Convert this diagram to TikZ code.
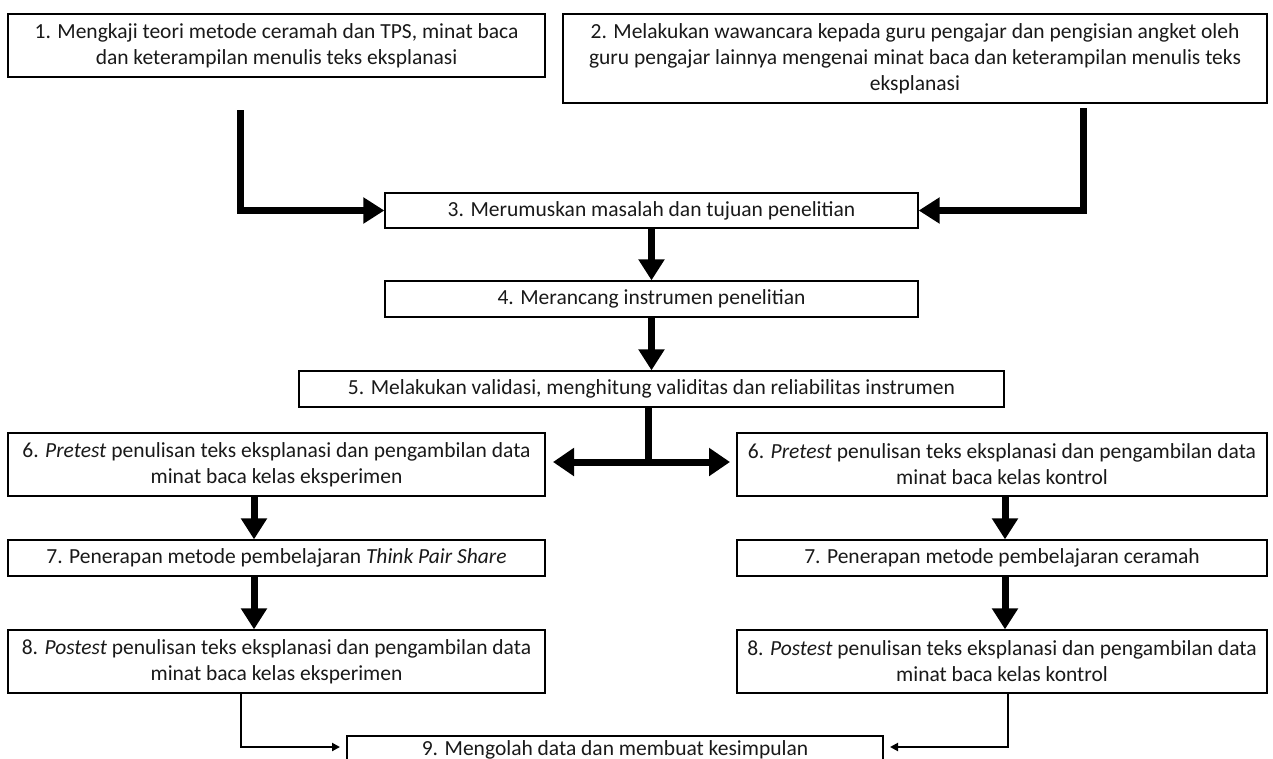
\documentclass[tikz,border=0pt]{standalone}
\usepackage{fontspec}
\setmainfont{Carlito}
\usetikzlibrary{arrows.meta}
\tikzset{
  box/.style={draw=black, line width=1.3pt, fill=white, align=center, inner sep=0pt,
    font=\fontsize{21.5}{26}\selectfont, text=black!90},
  bigarrow/.style={draw=black, line width=7pt, -{Triangle[width=25pt,length=21pt]}},
  bigdouble/.style={draw=black, line width=7pt, {Triangle[width=27pt,length=21pt]}-{Triangle[width=27pt,length=21pt]}},
  bigline/.style={draw=black, line width=7pt},
  thinarrow/.style={draw=black, line width=2pt, -{Triangle[width=8pt,length=8pt]}}
}
\begin{document}
\begin{tikzpicture}[x=1pt,y=-1pt]
\useasboundingbox (0,0) rectangle (1273,758);
\clip (0,0) rectangle (1273,758);
\fill[white] (0,0) rectangle (1273,758);

\node[box, minimum width=537pt, minimum height=63pt] (b1) at (276.5,45.5)
  {1. Mengkaji teori metode ceramah dan TPS, minat baca\\dan keterampilan menulis teks eksplanasi};
\node[box, minimum width=704pt, minimum height=89pt] (b2) at (915,58.5)
  {2. Melakukan wawancara kepada guru pengajar dan pengisian angket oleh\\guru pengajar lainnya mengenai minat baca dan keterampilan menulis teks\\eksplanasi};
\node[box, minimum width=533pt, minimum height=35pt] (b3) at (651.5,210.5)
  {3. Merumuskan masalah dan tujuan penelitian};
\node[box, minimum width=533pt, minimum height=36pt] (b4) at (651.5,299)
  {4. Merancang instrumen penelitian};
\node[box, minimum width=705pt, minimum height=36pt] (b5) at (651.5,389)
  {5. Melakukan validasi, menghitung validitas dan reliabilitas instrumen};
\node[box, minimum width=537pt, minimum height=63pt] (b6l) at (276.5,464.5)
  {6. \textit{Pretest} penulisan teks eksplanasi dan pengambilan data\\minat baca kelas eksperimen};
\node[box, minimum width=530pt, minimum height=63pt] (b6r) at (1002,464.5)
  {6. \textit{Pretest} penulisan teks eksplanasi dan pengambilan data\\minat baca kelas kontrol};
\node[box, minimum width=537pt, minimum height=36pt] (b7l) at (276.5,558)
  {7. Penerapan metode pembelajaran \textit{Think Pair Share}};
\node[box, minimum width=530pt, minimum height=36pt] (b7r) at (1002,558)
  {7. Penerapan metode pembelajaran ceramah};
\node[box, minimum width=537pt, minimum height=63pt] (b8l) at (276.5,661.5)
  {8. \textit{Postest} penulisan teks eksplanasi dan pengambilan data\\minat baca kelas eksperimen};
\node[box, minimum width=530pt, minimum height=63pt] (b8r) at (1002,661.5)
  {8. \textit{Postest} penulisan teks eksplanasi dan pengambilan data\\minat baca kelas kontrol};
\node[box, minimum width=536pt, minimum height=28pt] (b9) at (615,750)
  {9. Mengolah data dan membuat kesimpulan};

% top arrows into box 3
\coordinate (s1) at (240,110);
\coordinate (s2) at (1083,108);
\draw[bigarrow] (s1) |- (b3.west);
\draw[bigarrow] (s2) |- (b3.east);

% vertical chain
\draw[bigarrow] (b3.south) -- (b4.north);
\draw[bigarrow] (b4.south) -- (b5.north);

% split
\coordinate (j5) at (648,462);
\coordinate (tl) at (553,462);
\coordinate (tr) at (730,462);
\draw[bigline] (b5.south -| j5) -- (j5);
\draw[bigdouble] (tl) -- (tr);

% left column
\coordinate (xl) at (254,0);
\draw[bigarrow] (b6l.south -| xl) -- (b7l.north -| xl);
\draw[bigarrow] (b7l.south -| xl) -- (b8l.north -| xl);
% right column
\coordinate (xr) at (1005,0);
\draw[bigarrow] (b6r.south -| xr) -- (b7r.north -| xr);
\draw[bigarrow] (b7r.south -| xr) -- (b8r.north -| xr);

% bottom thin arrows
\coordinate (k8l) at (241,747);
\coordinate (k9l) at (340,747);
\coordinate (k8r) at (1008,747);
\coordinate (k9r) at (890,747);
\draw[thinarrow] (b8l.south -| k8l) |- (k9l);
\draw[thinarrow] (b8r.south -| k8r) |- (k9r);
\end{tikzpicture}
\end{document}
